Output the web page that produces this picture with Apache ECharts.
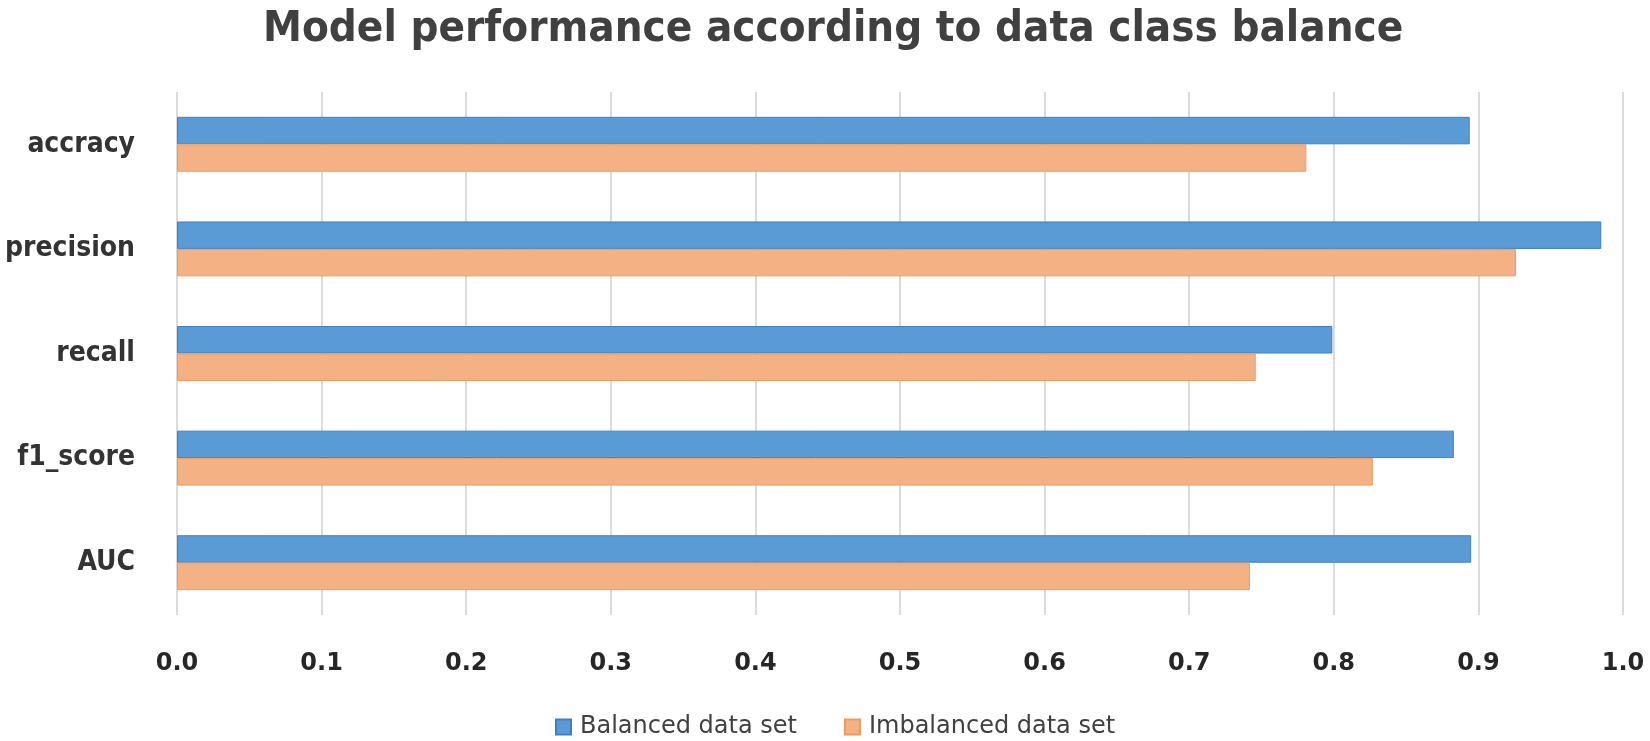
<!DOCTYPE html>
<html>
<head>
<meta charset="utf-8">
<script src="https://cdn.jsdelivr.net/npm/echarts@6/dist/echarts.min.js"></script>
<style>
html,body{margin:0;padding:0;background:#fff;}
#chart{width:1650px;height:741px;}
</style>
</head>
<body>
<div id="chart"></div>
<script>
const titleText = 'Model performance according to data class balance';
const categories = ['accracy', 'precision', 'recall', 'f1_score', 'AUC'];
const seriesNames = ['Balanced data set', 'Imbalanced data set'];
const balanced = [0.894, 0.985, 0.799, 0.883, 0.895];
const imbalanced = [0.781, 0.926, 0.746, 0.827, 0.742];
const xTicks = [0.0, 0.1, 0.2, 0.3, 0.4, 0.5, 0.6, 0.7, 0.8, 0.9, 1.0];

const chart = echarts.init(document.getElementById('chart'), null, {renderer: 'canvas'});
chart.setOption({
  backgroundColor: '#ffffff',
  animation: false,
  title: {
    text: titleText,
    left: 263,
    top: 8,
    padding: 0,
    textStyle: {
      fontFamily: '"DejaVu Sans Condensed", "DejaVu Sans", sans-serif',
      fontWeight: 'bold',
      fontSize: 43.5,
      color: '#404040'
    }
  },
  legend: {
    data: seriesNames,
    left: 555,
    top: 715,
    padding: 0,
    itemWidth: 15,
    itemHeight: 15,
    itemGap: 47,
    icon: 'rect',
    textStyle: {
      fontFamily: '"DejaVu Sans", sans-serif',
      fontSize: 24,
      color: '#404040',
      padding: [0, 0, 0, 4]
    }
  },
  grid: {
    left: 177,
    right: 27,
    top: 92,
    bottom: 126,
    containLabel: false
  },
  xAxis: {
    type: 'value',
    min: xTicks[0],
    max: xTicks[xTicks.length - 1],
    interval: 0.1,
    axisLine: {show: false},
    axisTick: {show: false},
    splitLine: {show: true, lineStyle: {color: '#cfcfcf', width: 1.5}},
    axisLabel: {
      margin: 37,
      formatter: v => v.toFixed(1),
      fontFamily: '"DejaVu Sans", sans-serif',
      fontWeight: 'bold',
      fontSize: 24,
      color: '#262626'
    }
  },
  yAxis: {
    type: 'category',
    data: categories,
    inverse: true,
    axisLine: {show: false},
    axisTick: {show: false},
    splitLine: {show: false},
    axisLabel: {
      margin: 42,
      fontFamily: '"DejaVu Sans Condensed", "DejaVu Sans", sans-serif',
      fontWeight: 'bold',
      fontSize: 28,
      color: '#333333'
    }
  },
  series: [
    {
      name: seriesNames[0],
      type: 'bar',
      data: balanced,
      barGap: '0%',
      barCategoryGap: '47.5%',
      itemStyle: {color: '#5B9BD5', borderColor: '#3C80C6', borderWidth: 1}
    },
    {
      name: seriesNames[1],
      type: 'bar',
      data: imbalanced,
      barGap: '0%',
      barCategoryGap: '47.5%',
      itemStyle: {color: '#F4B183', borderColor: '#F09A5E', borderWidth: 1}
    }
  ]
});
</script>
</body>
</html>
